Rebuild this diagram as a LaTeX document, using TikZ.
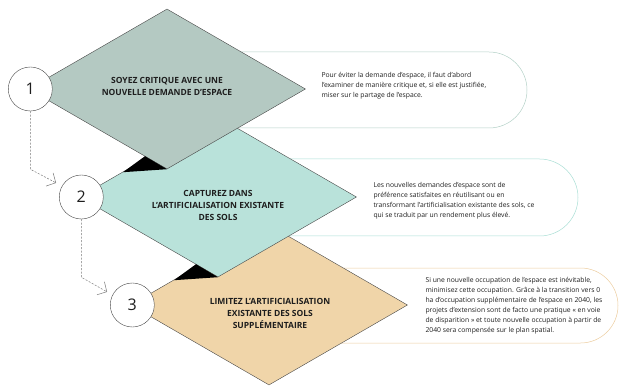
\documentclass[tikz,border=0pt]{standalone}
\usepackage{fontspec}
\setmainfont{Open Sans}
\usepackage{xcolor}
\definecolor{sage}{RGB}{180,201,194}
\definecolor{mint}{RGB}{185,226,218}
\definecolor{sand}{RGB}{240,213,169}
\definecolor{sageline}{RGB}{178,208,198}
\definecolor{mintline}{RGB}{168,222,212}
\definecolor{sandline}{RGB}{236,204,158}
\definecolor{edgegray}{RGB}{70,70,70}
\definecolor{dashgray}{RGB}{120,120,120}
\definecolor{ink}{RGB}{30,30,30}
\usepackage{tikz}
\usetikzlibrary{
  shapes.geometric, shapes.misc,
  arrows.meta, positioning, calc
}

\begin{document}
\begin{tikzpicture}[x=1pt, y=-1pt,
  stepdiamond/.style={diamond, draw=edgegray, line width=0.4pt,
    minimum width=277pt, minimum height=160pt, inner sep=0pt},
  steplabel/.style={align=center, text=ink,
    font=\fontsize{8.5}{12}\selectfont\bfseries},
  numcircle/.style={circle, draw=edgegray, line width=0.4pt, fill=white,
    minimum size=44pt, inner sep=0pt, text=ink,
    font=\fontsize{16}{16}\selectfont},
  infobox/.style={rounded rectangle, rounded rectangle left arc=none,
    line width=0.5pt, minimum height=76pt, inner sep=0pt},
  infotext/.style={anchor=west, align=left, text=ink,
    font=\fontsize{6.8}{10}\selectfont},
  arr/.style={-{Straight Barb[length=7pt,width=15pt]}, dash pattern=on 2pt off 1.5pt,
    line width=0.5pt, color=dashgray}]

  \useasboundingbox (0,0) rectangle (623,387);

  % explanation boxes
  \node[infobox, draw=sageline, minimum width=297pt] (b1) at (378.5,90) {};
  \node[infobox, draw=mintline, minimum width=297pt, minimum height=77pt] (b2) at ($(b1)+(51,107.5)$) {};
  \node[infobox, draw=sandline, minimum width=286pt, minimum height=75pt] (b3) at (475,305.5) {};

  \node[infotext] (b1txt) at (318,86) {Pour éviter la demande d'espace, il faut d'abord\\l'examiner de manière critique et, si elle est justifiée,\\miser sur le partage de l'espace.};
  \node[infotext] (b2txt) at (370,201) {Les nouvelles demandes d'espace sont de\\préférence satisfaites en réutilisant ou en\\transformant l'artificialisation existante des sols, ce\\qui se traduit par un rendement plus élevé.};
  \node[infotext] (b3txt) at (422,306) {Si une nouvelle occupation de l'espace est inévitable,\\minimisez cette occupation. Grâce à la transition vers 0\\ha d'occupation supplémentaire de l'espace en 2040, les\\projets d'extension sont de facto une pratique « en voie\\de disparition » et toute nouvelle occupation à partir de\\2040 sera compensée sur le plan spatial.};

  % steps, drawn from the bottom up
  \node[stepdiamond, fill=sand] (d3) at (269,305) {};
  \node[stepdiamond, fill=mint] (d2) at ($(d3)+(-51,-108)$) {};
  \fill[black] (d2.south) -- ++(-44,3) -- ++(22,-16) -- cycle;
  \node[stepdiamond, fill=sage] (d1) at ($(d2)+(-51,-108)$) {};
  \fill[black] (d1.south) -- ++(-44,3) -- ++(22,-16) -- cycle;

  \node[steplabel] (d1txt) at ($(d1)+(0,-3)$) {SOYEZ CRITIQUE AVEC UNE\\NOUVELLE DEMANDE D'ESPACE};
  \node[steplabel] (d2txt) at ($(d2)+(0,8)$) {CAPTUREZ DANS\\L'ARTIFICIALISATION EXISTANTE\\DES SOLS};
  \node[steplabel] (d3txt) at ($(d3)+(1,8)$) {LIMITEZ L'ARTIFICIALISATION\\EXISTANTE DES SOLS\\SUPPLÉMENTAIRE};

  % numbers
  \node[numcircle] (c1) at ([xshift=2pt]d1.west) {1};
  \node[numcircle] (c2) at ([xshift=2pt]d2.west) {2};
  \node[numcircle] (c3) at ([xshift=2pt]d3.west) {3};

  \draw[arr] (c1.south) -- ++(0,58) -- ($(c2.150)+(-6,-3)$);
  \draw[arr] (c2.south) -- ++(0,58) -- ($(c3.150)+(-6,-2)$);

\end{tikzpicture}
\end{document}
